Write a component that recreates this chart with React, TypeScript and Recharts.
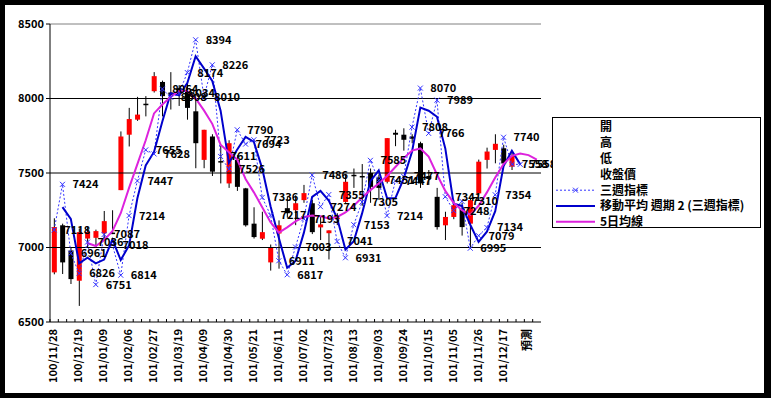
import React from 'react';
import { ComposedChart, Bar, Line, XAxis, YAxis, ReferenceLine, LabelList } from 'recharts';

const categories = [
  '100/11/28', '100/12/05', '100/12/12', '100/12/19', '100/12/26', '101/01/02', '101/01/09', '101/01/16',
  '101/01/30', '101/02/06', '101/02/13', '101/02/20', '101/02/27', '101/03/05', '101/03/12', '101/03/19',
  '101/03/26', '101/04/02', '101/04/09', '101/04/16', '101/04/23', '101/04/30', '101/05/07', '101/05/14',
  '101/05/21', '101/05/28', '101/06/04', '101/06/11', '101/06/18', '101/06/25', '101/07/02', '101/07/09',
  '101/07/16', '101/07/23', '101/07/30', '101/08/06', '101/08/13', '101/08/20', '101/08/27', '101/09/03',
  '101/09/10', '101/09/17', '101/09/24', '101/10/01', '101/10/08', '101/10/15', '101/10/22', '101/10/29',
  '101/11/05', '101/11/12', '101/11/19', '101/11/26', '101/12/03', '101/12/10', '101/12/17', '101/12/24',
  '101/12/31', '預測', '',
];

// weekly candles (開 / 高 / 低 / 收盤價)
const openPrice = [
  6833, 7149, 6980, 6777, 7060, 7065, 7095, 7100, 7385, 7757, 7858, 7965, 8049, 8111, 8040, 8070,
  8049, 7914, 7588, 7745, 7580, 7430, 7588, 7397, 7160, 7059, 6900, 7094, 7264, 7250, 7318, 7297,
  7135, 7096, 7190, 7306, 7488, 7480, 7500, 7470, 7441, 7770, 7757, 7745, 7700, 7480, 7340, 7149,
  7205, 7261, 7160, 7363, 7588, 7655, 7666, 7543,
];
const highPrice = [
  7196, 7160, 7002, 7128, 7137, 7120, 7245, 7250, 7779, 7937, 8011, 8016, 8177, 8120, 8177, 8090,
  8117, 7993, 7790, 7760, 7682, 7720, 7620, 7400, 7270, 7240, 7020, 7182, 7340, 7350, 7420, 7320,
  7210, 7115, 7230, 7490, 7530, 7560, 7530, 7490, 7734, 7790, 7800, 7760, 7710, 7520, 7400, 7240,
  7320, 7300, 7330, 7590, 7670, 7760, 7690, 7650,
];
const lowPrice = [
  6820, 6822, 6755, 6608, 7002, 7000, 7050, 7090, 7385, 7678, 7850, 7880, 8040, 7880, 7926, 7950,
  7858, 7532, 7532, 7480, 7430, 7400, 7380, 7140, 7060, 7050, 6845, 6858, 7200, 7150, 7300, 7090,
  7050, 6920, 7150, 7300, 7400, 7280, 7300, 7320, 7430, 7680, 7650, 7700, 7400, 7420, 7120, 7050,
  7190, 7080, 7000, 7350, 7530, 7565, 7545, 7520,
];
const closePrice = [
  7137, 6900, 6788, 7103, 7105, 7110, 7177, 7095, 7745, 7862, 7892, 7955, 8150, 8016, 8025, 8030,
  7937, 7700, 7790, 7509, 7570, 7700, 7407, 7149, 7070, 7103, 7002, 7149, 7230, 7297, 7365, 7103,
  7155, 7115, 7200, 7441, 7486, 7470, 7407, 7400, 7734, 7757, 7723, 7730, 7430, 7460, 7137, 7205,
  7284, 7137, 7318, 7576, 7644, 7696, 7564, 7615,
];

// 三週指標
const triWeek = [
  7118, 7424, 6961, 6826, 7036, 6751, 7087, 7018, 6814, 7214,
  7447, 7655, 7628, 8064, 8008, 8034, 8174, 8394, 8010, 8226,
  7611, 7526, 7790, 7694, 7723, 7336, 7217, 6911, 6817, 7003,
  7193, 7486, 7274, 7355, 7041, 6931, 7153, 7305, 7585, 7451,
  7214, 7447, 7477, 7808, 8070, 7766, 7989, 7341, 7248, 7310,
  6995, 7079, 7134, 7354, 7740, 7558, 7558,
];

// 5日均線
const ma5Line = [
  null, null, null, null, 7030, 7010, 7050, 7110, 7230, 7400, 7560, 7720, 7900, 7960, 8010, 8050,
  8050, 8000, 7920, 7830, 7690, 7640, 7590, 7460, 7370, 7270, 7170, 7100, 7135, 7175, 7205, 7215,
  7210, 7195, 7205, 7235, 7280, 7335, 7385, 7430, 7480, 7540, 7600, 7650, 7665, 7610, 7490, 7380,
  7300, 7250, 7220, 7280, 7370, 7470, 7560, 7615, 7630, 7620, 7590,
];

const yTicks = [6500, 7000, 7500, 8000, 8500];

const FONT = "'Noto Sans CJK TC', 'Noto Sans', sans-serif";

const rows = categories.map((date, i) => {
  const o = openPrice[i];
  const t = triWeek[i];
  const tp = i > 0 ? triWeek[i - 1] : undefined;
  return {
    date,
    range: o == null ? null : [lowPrice[i], highPrice[i]],
    open: o ?? null,
    high: highPrice[i] ?? null,
    low: lowPrice[i] ?? null,
    close: closePrice[i] ?? null,
    tri: t ?? null,
    // 移動平均 週期 2 (三週指標)
    ma2: t != null && tp != null ? (t + tp) / 2 : null,
    ma5: ma5Line[i] ?? null,
  };
});

const Candle = (props: any) => {
  const { x, y, width, height, payload } = props;
  if (!payload || payload.open == null || height == null) return null;
  const { open, close, high, low } = payload;
  const top = Math.min(y, y + height);
  const h = Math.abs(height);
  const ppv = h / (high - low || 1);
  const cx = x + width / 2;
  const bodyTop = top + (high - Math.max(open, close)) * ppv;
  const bodyBottom = top + (high - Math.min(open, close)) * ppv;
  const color = close >= open ? '#ff0000' : '#000000';
  return (
    <g>
      <line x1={cx} x2={cx} y1={top} y2={top + h} stroke="#000" strokeWidth={1} />
      <rect x={cx - 2.5} y={bodyTop} width={5} height={Math.max(bodyBottom - bodyTop, 1.5)} fill={color} />
    </g>
  );
};

const XMark = (props: any) => {
  const { cx, cy } = props;
  if (cx == null || cy == null || props.value == null) return null;
  const s = 2.5;
  return (
    <path
      d={`M${cx - s},${cy - s}L${cx + s},${cy + s}M${cx - s},${cy + s}L${cx + s},${cy - s}`}
      stroke="#3333ff"
      strokeWidth={1}
      fill="none"
    />
  );
};

const triLabel = (props: any) => {
  const { x, y, value } = props;
  if (value == null) return null;
  return (
    <text x={x + 10} y={y} dy="0.36em" fontSize={11} fontWeight="bold" fontFamily={FONT} fill="#000">
      {value}
    </text>
  );
};

const XTick = (props: any) => {
  const { x, y, payload, index } = props;
  const band = 491 / categories.length;
  const left = x - band / 2;
  return (
    <g>
      <line x1={left} x2={left} y1={y} y2={y - 3} stroke="#000" />
      {index % 3 === 0 && (
        <text
          transform={`translate(${x - 1},${y + 7}) rotate(-90)`}
          textAnchor="end"
          dy="0.36em"
          fontSize={11}
          fontWeight="bold"
          fontFamily={FONT}
          fill="#000"
        >
          {payload.value}
        </text>
      )}
    </g>
  );
};

const Legend = () => {
  const rowY = (k: number) => 127 + k * 15.8;
  const names = ['開', '高', '低', '收盤價', '三週指標', '移動平均 週期 2 (三週指標)', '5日均線'];
  return (
    <svg width={771} height={398} style={{ position: 'absolute', left: 0, top: 0, pointerEvents: 'none' }}>
      <rect x={552.5} y={117.5} width={208} height={110} fill="#fff" stroke="#000" />
      {names.map((n, k) => (
        <text key={n} x={600} y={rowY(k)} dy="0.36em" fontSize={12} fontWeight="bold" fontFamily={FONT} fill="#000">
          {n}
        </text>
      ))}
      <line x1={556} x2={595} y1={rowY(4)} y2={rowY(4)} stroke="#3333ff" strokeDasharray="2 2" />
      <XMark cx={575.5} cy={rowY(4)} value={1} />
      <line x1={556} x2={595} y1={rowY(5)} y2={rowY(5)} stroke="#0000cc" strokeWidth={2} />
      <line x1={556} x2={595} y1={rowY(6)} y2={rowY(6)} stroke="#dd22dd" strokeWidth={2} />
    </svg>
  );
};

export default function App() {
  return (
    <div style={{ position: 'absolute', left: 0, top: 0, width: 771, height: 398, background: '#000', fontFamily: FONT }}>
      <div style={{ position: 'absolute', left: 5, top: 5, width: 759, height: 388, background: '#fff' }} />
      <div style={{ position: 'absolute', left: 0, top: 0 }}>
        <ComposedChart width={771} height={398} data={rows} margin={{ top: 24, right: 230, bottom: 0, left: 0 }}>
          <XAxis
            dataKey="date"
            interval={0}
            tickLine={false}
            tickSize={0}
            tickMargin={0}
            tick={<XTick />}
            axisLine={{ stroke: '#000' }}
            height={76}
          />
          <YAxis
            domain={[6500, 8500]}
            ticks={yTicks}
            interval={0}
            width={50}
            allowDataOverflow
            tickSize={4}
            tickLine={{ stroke: '#000' }}
            axisLine={{ stroke: '#000' }}
            tick={{ fontSize: 11, fontWeight: 'bold', fill: '#000', fontFamily: FONT }}
          />
          <YAxis yAxisId="right" orientation="right" width={0} domain={[6500, 8500]} tick={false} tickLine={false} axisLine={{ stroke: '#808080' }} />
          <ReferenceLine y={8500} stroke="#808080" />
          <ReferenceLine y={8000} stroke="#000" />
          <ReferenceLine y={7500} stroke="#000" />
          <ReferenceLine y={7000} stroke="#000" />
          <Bar dataKey="range" shape={<Candle />} isAnimationActive={false} />
          <Line
            dataKey="tri"
            stroke="#3333ff"
            strokeWidth={1}
            strokeDasharray="2 2"
            dot={<XMark />}
            activeDot={false}
            isAnimationActive={false}
          >
            <LabelList dataKey="tri" content={triLabel} />
          </Line>
          <Line dataKey="ma2" stroke="#0000cc" strokeWidth={2} dot={false} activeDot={false} isAnimationActive={false} />
          <Line dataKey="ma5" stroke="#dd22dd" strokeWidth={2} dot={false} activeDot={false} isAnimationActive={false} />
        </ComposedChart>
      </div>
      <Legend />
    </div>
  );
}
